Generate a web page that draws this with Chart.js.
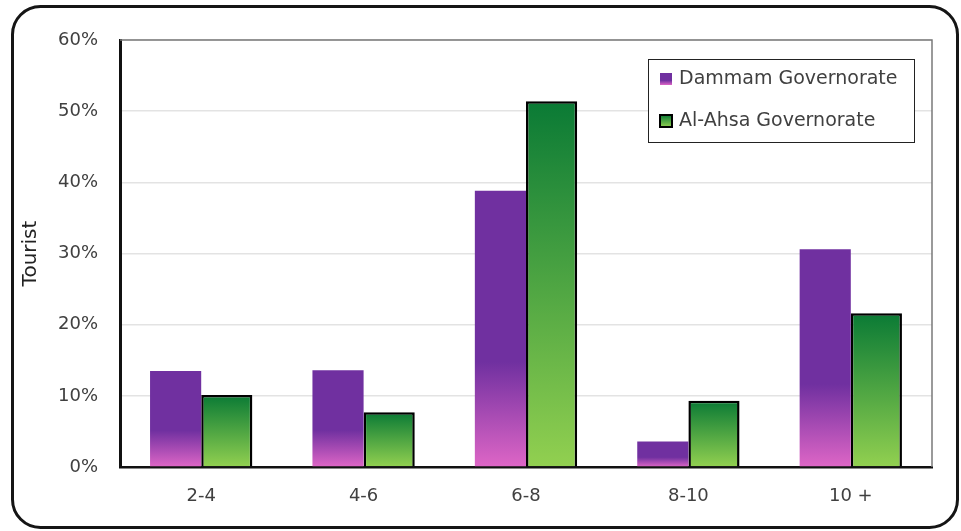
<!DOCTYPE html>
<html>
<head>
<meta charset="utf-8">
<script src="https://cdn.jsdelivr.net/npm/chart.js@4/dist/chart.umd.min.js"></script>
<style>
  html, body { margin: 0; padding: 0; background: #ffffff; }
  #wrap { width: 961px; height: 531px; position: relative; }
</style>
</head>
<body>
<div id="wrap"><canvas id="c" width="961" height="531"></canvas></div>
<script>
// Length of stay groups (nights) and share of tourists per governorate (%)
const categories = ['2-4', '4-6', '6-8', '8-10', '10 +'];
const dammam = [13.5, 13.6, 38.8, 3.6, 30.6];
const alAhsa = [10.1, 7.7, 51.4, 9.3, 21.6];
const seriesNames = ['Dammam Governorate', 'Al-Ahsa Governorate'];
const yTicks = [0, 10, 20, 30, 40, 50, 60];

const TEXT = '#404040';
const FONT = 'DejaVu Sans';

const purpleStops = [[0, '#7030A0'], [0.62, '#7030A0'], [1, '#DE66C6']];
const greenStops = [[0, '#0A7A35'], [1, '#92D050']];

// Per-bar vertical gradient running from the bar top to the zero line
function barGradient(ctx, stops) {
  const chart = ctx.chart;
  if (!chart.chartArea || ctx.type !== 'data' || !chart.scales.y) return stops[0][1];
  const y = chart.scales.y;
  const top = y.getPixelForValue(ctx.raw);
  const base = y.getPixelForValue(0);
  if (!isFinite(top) || !isFinite(base) || base - top < 1) return stops[0][1];
  const g = chart.ctx.createLinearGradient(0, top, 0, base);
  stops.forEach(([o, c]) => g.addColorStop(o, c));
  return g;
}

// Rounded outer frame, plot frame and the legend box
const decorations = {
  id: 'decorations',
  afterDraw(chart) {
    const c = chart.ctx;
    const a = chart.chartArea;
    c.save();
    // top and right plot edges
    c.strokeStyle = '#7a7a7a';
    c.lineWidth = 1.5;
    c.beginPath();
    c.moveTo(a.left, a.top);
    c.lineTo(a.right, a.top);
    c.lineTo(a.right, a.bottom);
    c.stroke();

    // legend
    const lx = 648.5, ly = 59.5, lw = 266, lh = 83;
    c.fillStyle = '#ffffff';
    c.fillRect(lx, ly, lw, lh);
    c.strokeStyle = '#222222';
    c.lineWidth = 1;
    c.strokeRect(lx, ly, lw, lh);

    const items = [
      { name: seriesNames[0], stops: purpleStops, border: false, y: 79 },
      { name: seriesNames[1], stops: greenStops, border: true, y: 121 }
    ];
    items.forEach(it => {
      const mx = 660, ms = 12, my = it.y - 6;
      const g = c.createLinearGradient(0, my, 0, my + ms);
      it.stops.forEach(([o, col]) => g.addColorStop(o, col));
      c.fillStyle = g;
      c.fillRect(mx, my, ms, ms);
      if (it.border) {
        c.strokeStyle = '#000000';
        c.lineWidth = 2;
        c.strokeRect(mx, my, ms, ms);
      }
      c.fillStyle = TEXT;
      c.font = '19px "' + FONT + '"';
      c.textAlign = 'left';
      c.textBaseline = 'middle';
      c.fillText(it.name, 679, it.y);
    });

    // rounded outer frame
    c.strokeStyle = '#151515';
    c.lineWidth = 3;
    c.beginPath();
    c.roundRect(12.5, 6.5, 945, 521, 28);
    c.stroke();
    c.restore();
  }
};

new Chart(document.getElementById('c'), {
  type: 'bar',
  data: {
    labels: categories,
    datasets: [
      {
        label: seriesNames[0],
        data: dammam,
        backgroundColor: ctx => barGradient(ctx, purpleStops),
        borderWidth: 0
      },
      {
        label: seriesNames[1],
        data: alAhsa,
        backgroundColor: ctx => barGradient(ctx, greenStops),
        borderColor: '#000000',
        borderWidth: 2.5
      }
    ]
  },
  options: {
    responsive: false,
    animation: false,
    devicePixelRatio: 1,
    layout: { padding: { left: 0, top: 40, right: 29, bottom: 0 } },
    datasets: { bar: { barPercentage: 1, categoryPercentage: 0.63 } },
    plugins: {
      legend: { display: false },
      tooltip: { enabled: false },
      title: { display: false }
    },
    scales: {
      x: {
        grid: { display: false, drawTicks: false },
        border: { display: true, color: '#111111', width: 2.5 },
        ticks: { color: TEXT, font: { family: FONT, size: 18 }, padding: 19 },
        afterFit(scale) { scale.height = 64; }
      },
      y: {
        min: 0,
        max: 60,
        afterBuildTicks(scale) { scale.ticks = yTicks.map(v => ({ value: v })); },
        grid: { color: '#e3e3e3', lineWidth: 1.5, drawTicks: false },
        border: { display: true, color: '#111111', width: 3 },
        ticks: {
          color: TEXT,
          font: { family: FONT, size: 18 },
          padding: 22,
          callback: v => v + '%'
        },
        title: {
          display: true,
          text: 'Tourist',
          color: '#222222',
          font: { family: FONT, size: 20 },
          padding: { top: 19, bottom: 0 }
        },
        afterFit(scale) { scale.width = 120; }
      }
    }
  },
  plugins: [decorations]
});
</script>
</body>
</html>
